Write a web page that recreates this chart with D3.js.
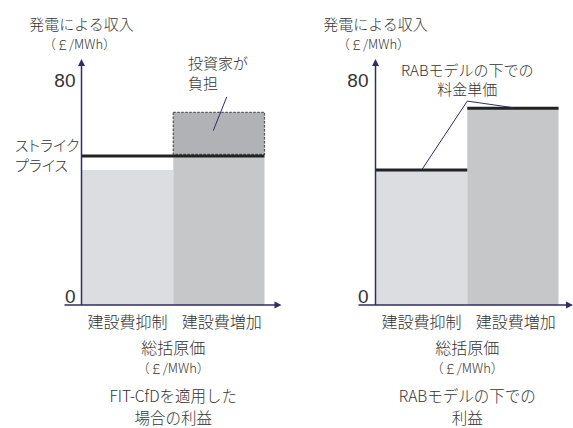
<!DOCTYPE html>
<html>
<head>
<meta charset="utf-8">
<script src="https://cdn.jsdelivr.net/npm/d3@7"></script>
<style>
  html, body { margin: 0; padding: 0; background: #fff; }
  svg { display: block; }
  text { font-family: "Noto Sans CJK JP", "Noto Sans", sans-serif; font-weight: 300; fill: #333; }
  .num { font-family: "Liberation Sans", "Noto Sans", sans-serif; font-weight: 400; }
</style>
</head>
<body>
<svg id="chart" width="573" height="428"></svg>
<script>
// Categories on the horizontal axis (total cost)
const categories = ["建設費抑制", "建設費増加"];
// FIT-CfD: revenue per category (capped at the strike price)
const cfdRevenue = [48, 53];
const strikePrice = 53;
// Cost overrun above the strike price, borne by investors
const investorTop = 68.5;
// RAB model: unit price per category
const rabPrice = [48, 70];
// Vertical axis tick values
const yTicks = [0, 80];

const yAxisTitle = ["発電による収入", "（￡/MWh）"];
const xAxisTitle = ["総括原価", "（￡/MWh）"];
const captions = [["FIT-CfDを適用した", "場合の利益"], ["RABモデルの下での", "利益"]];

const W = 573, H = 428;
const svg = d3.select("#chart");
const axisColor = "#2f2c66";
const lightFill = "#dcdde0";
const darkFill = "#c6c7c9";

const y = d3.scaleLinear().domain([0, 80]).range([305, 80]);

const panels = [
  { ox: 81.5, kind: "cfd" },
  { ox: 375.5, kind: "rab" }
];

panels.forEach((p, pi) => {
  const g = svg.append("g");
  const x = d3.scaleBand().domain(categories).range([p.ox + 0.5, p.ox + 183]).padding(0);
  const fills = [lightFill, darkFill];
  const mid = (x.range()[0] + x.range()[1]) / 2;

  // bars
  const vals = p.kind === "cfd" ? cfdRevenue : rabPrice;
  g.selectAll("rect.bar").data(categories).join("rect")
    .attr("class", "bar")
    .attr("x", d => x(d))
    .attr("width", x.bandwidth())
    .attr("y", (d, i) => y(vals[i]))
    .attr("height", (d, i) => y(0) - y(vals[i]))
    .attr("fill", (d, i) => fills[i]);

  if (p.kind === "cfd") {
    // investor-borne portion above the strike price
    g.append("rect")
      .attr("x", x(categories[1]))
      .attr("width", x.bandwidth())
      .attr("y", y(investorTop))
      .attr("height", y(strikePrice) - y(investorTop) - 1.5)
      .attr("fill", "#b1b2b5")
      .attr("stroke", "#555")
      .attr("stroke-width", 1.2)
      .attr("stroke-dasharray", "2.5,1.5");
    // strike price line
    g.append("line")
      .attr("x1", x.range()[0]).attr("x2", x.range()[1])
      .attr("y1", y(strikePrice)).attr("y2", y(strikePrice))
      .attr("stroke", "#222").attr("stroke-width", 3);
    // leader line
    const bx = x(categories[1]);
    g.append("line")
      .attr("x1", bx + 53.5).attr("y1", y(74))
      .attr("x2", bx + 40).attr("y2", y(62))
      .attr("stroke", axisColor).attr("stroke-width", 1);
    g.append("text").attr("x", 188).attr("y", 69).style("font-size", "15px").text("投資家が");
    g.append("text").attr("x", 188).attr("y", 89).style("font-size", "15px").text("負担");
    g.append("text").attr("x", 15).attr("y", 151).style("font-size", "15px")
      .style("font-feature-settings", "'palt'").text("ストライク");
    g.append("text").attr("x", 15).attr("y", 171).style("font-size", "15px")
      .style("font-feature-settings", "'palt'").text("プライス");
  } else {
    // unit price lines on each bar
    g.selectAll("line.price").data(categories).join("line")
      .attr("class", "price")
      .attr("x1", d => x(d)).attr("x2", d => x(d) + x.bandwidth())
      .attr("y1", (d, i) => y(rabPrice[i])).attr("y2", (d, i) => y(rabPrice[i]))
      .attr("stroke", "#222").attr("stroke-width", 3);
    // leader lines
    const apex = [x(categories[1]), y(72.5)];
    const ends = [
      [x(categories[0]) + x.bandwidth() / 2, y(rabPrice[0])],
      [x(categories[1]) + x.bandwidth() / 2, y(rabPrice[1]) - 0.5]
    ];
    ends.forEach(e => {
      g.append("line")
        .attr("x1", apex[0]).attr("y1", apex[1])
        .attr("x2", e[0]).attr("y2", e[1])
        .attr("stroke", axisColor).attr("stroke-width", 1);
    });
    g.append("text").attr("x", apex[0]).attr("y", 76).attr("text-anchor", "middle")
      .style("font-size", "15px").text("RABモデルの下での");
    g.append("text").attr("x", apex[0]).attr("y", 95).attr("text-anchor", "middle")
      .style("font-size", "15px").text("料金単価");
  }

  // axes
  g.append("line")
    .attr("x1", p.ox).attr("x2", p.ox)
    .attr("y1", y(0)).attr("y2", 64)
    .attr("stroke", axisColor).attr("stroke-width", 1.5);
  g.append("path")
    .attr("d", `M${p.ox},59 L${p.ox - 3.5},66 L${p.ox + 3.5},66 Z`)
    .attr("fill", axisColor);
  const xEnd = Math.min(p.ox + 200, W);
  g.append("line")
    .attr("x1", p.ox - 17).attr("x2", xEnd - 5)
    .attr("y1", y(0)).attr("y2", y(0))
    .attr("stroke", axisColor).attr("stroke-width", 1.5);
  g.append("path")
    .attr("d", `M${xEnd},${y(0)} L${xEnd - 7},${y(0) - 3.5} L${xEnd - 7},${y(0) + 3.5} Z`)
    .attr("fill", axisColor);

  // tick labels
  g.selectAll("text.tick").data(yTicks).join("text")
    .attr("class", "tick num")
    .attr("x", p.ox - 6 + (pi ? -1 : 0))
    .attr("y", d => d === 0 ? y(d) - 2 : y(d) + 7)
    .attr("text-anchor", "end")
    .style("font-size", "19px")
    .text(d => d);

  // y axis title
  g.append("text").attr("x", p.ox).attr("y", 30).attr("text-anchor", "middle")
    .style("font-size", "15px").text(yAxisTitle[0]);
  g.append("text").attr("x", p.ox - 2).attr("y", 49).attr("text-anchor", "middle")
    .style("font-size", "13px").text(yAxisTitle[1]);

  // category labels
  g.selectAll("text.cat").data(categories).join("text")
    .attr("class", "cat")
    .attr("x", (d, i) => x(d) + x.bandwidth() / 2 + (i ? 3 : 0))
    .attr("y", 328)
    .attr("text-anchor", "middle")
    .style("font-size", "16px")
    .text(d => d);

  // x axis title
  g.append("text").attr("x", mid).attr("y", 354).attr("text-anchor", "middle")
    .style("font-size", "16px").text(xAxisTitle[0]);
  g.append("text").attr("x", mid).attr("y", 373).attr("text-anchor", "middle")
    .style("font-size", "13px").text(xAxisTitle[1]);

  // caption
  g.append("text").attr("x", mid).attr("y", 402).attr("text-anchor", "middle")
    .style("font-size", "15.5px").text(captions[pi][0]);
  g.append("text").attr("x", mid).attr("y", 423.5).attr("text-anchor", "middle")
    .style("font-size", "15.5px").text(captions[pi][1]);
});
</script>
</body>
</html>
